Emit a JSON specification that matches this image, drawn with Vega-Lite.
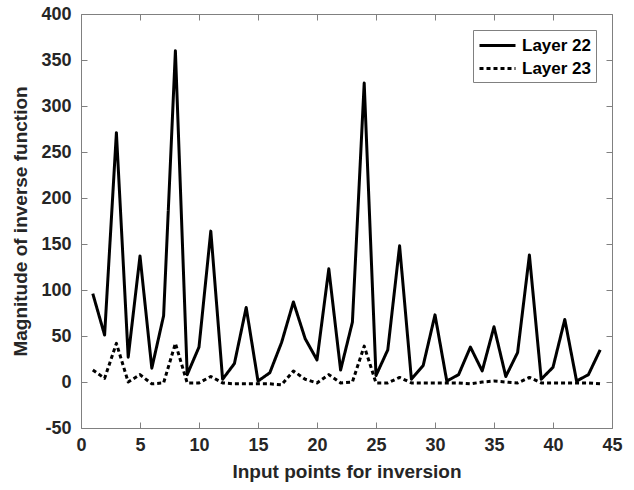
{
  "$schema": "https://vega.github.io/schema/vega-lite/v6.json",
  "autosize": "none",
  "width": 531,
  "height": 414,
  "padding": {"left": 81, "top": 14, "right": 22, "bottom": 62},
  "background": "white",
  "config": {
    "font": "Liberation Sans",
    "view": {"stroke": "#808080", "strokeWidth": 1},
    "axis": {
      "grid": false,
      "domain": false,
      "ticks": true,
      "tickSize": 6,
      "offset": -6,
      "tickColor": "#808080",
      "labelFont": "Liberation Sans",
      "labelFontWeight": "bold",
      "labelFontSize": 18,
      "labelColor": "#262626",
      "titleFont": "Liberation Sans",
      "titleFontWeight": "bold",
      "titleFontSize": 19,
      "titleColor": "#262626"
    }
  },
  "data": {
    "values": [
      {"x": 1, "y": 96, "series": "Layer 22"},
      {"x": 2, "y": 51, "series": "Layer 22"},
      {"x": 3, "y": 271, "series": "Layer 22"},
      {"x": 4, "y": 27, "series": "Layer 22"},
      {"x": 5, "y": 137, "series": "Layer 22"},
      {"x": 6, "y": 15, "series": "Layer 22"},
      {"x": 7, "y": 72, "series": "Layer 22"},
      {"x": 8, "y": 360, "series": "Layer 22"},
      {"x": 9, "y": 8, "series": "Layer 22"},
      {"x": 10, "y": 38, "series": "Layer 22"},
      {"x": 11, "y": 164, "series": "Layer 22"},
      {"x": 12, "y": 3, "series": "Layer 22"},
      {"x": 13, "y": 20, "series": "Layer 22"},
      {"x": 14, "y": 81, "series": "Layer 22"},
      {"x": 15, "y": 1, "series": "Layer 22"},
      {"x": 16, "y": 10, "series": "Layer 22"},
      {"x": 17, "y": 43, "series": "Layer 22"},
      {"x": 18, "y": 87, "series": "Layer 22"},
      {"x": 19, "y": 47, "series": "Layer 22"},
      {"x": 20, "y": 24, "series": "Layer 22"},
      {"x": 21, "y": 123, "series": "Layer 22"},
      {"x": 22, "y": 13, "series": "Layer 22"},
      {"x": 23, "y": 65, "series": "Layer 22"},
      {"x": 24, "y": 325, "series": "Layer 22"},
      {"x": 25, "y": 7, "series": "Layer 22"},
      {"x": 26, "y": 35, "series": "Layer 22"},
      {"x": 27, "y": 148, "series": "Layer 22"},
      {"x": 28, "y": 3, "series": "Layer 22"},
      {"x": 29, "y": 18, "series": "Layer 22"},
      {"x": 30, "y": 73, "series": "Layer 22"},
      {"x": 31, "y": 1, "series": "Layer 22"},
      {"x": 32, "y": 8, "series": "Layer 22"},
      {"x": 33, "y": 38, "series": "Layer 22"},
      {"x": 34, "y": 12, "series": "Layer 22"},
      {"x": 35, "y": 60, "series": "Layer 22"},
      {"x": 36, "y": 6, "series": "Layer 22"},
      {"x": 37, "y": 32, "series": "Layer 22"},
      {"x": 38, "y": 138, "series": "Layer 22"},
      {"x": 39, "y": 3, "series": "Layer 22"},
      {"x": 40, "y": 16, "series": "Layer 22"},
      {"x": 41, "y": 68, "series": "Layer 22"},
      {"x": 42, "y": 1, "series": "Layer 22"},
      {"x": 43, "y": 8, "series": "Layer 22"},
      {"x": 44, "y": 35, "series": "Layer 22"},
      {"x": 1, "y": 13, "series": "Layer 23"},
      {"x": 2, "y": 4, "series": "Layer 23"},
      {"x": 3, "y": 42, "series": "Layer 23"},
      {"x": 4, "y": 0, "series": "Layer 23"},
      {"x": 5, "y": 8, "series": "Layer 23"},
      {"x": 6, "y": -2, "series": "Layer 23"},
      {"x": 7, "y": -1, "series": "Layer 23"},
      {"x": 8, "y": 42, "series": "Layer 23"},
      {"x": 9, "y": -1, "series": "Layer 23"},
      {"x": 10, "y": -1, "series": "Layer 23"},
      {"x": 11, "y": 6, "series": "Layer 23"},
      {"x": 12, "y": -1, "series": "Layer 23"},
      {"x": 13, "y": -2, "series": "Layer 23"},
      {"x": 14, "y": -2, "series": "Layer 23"},
      {"x": 15, "y": -2, "series": "Layer 23"},
      {"x": 16, "y": -2, "series": "Layer 23"},
      {"x": 17, "y": -3, "series": "Layer 23"},
      {"x": 18, "y": 12, "series": "Layer 23"},
      {"x": 19, "y": 3, "series": "Layer 23"},
      {"x": 20, "y": -1, "series": "Layer 23"},
      {"x": 21, "y": 8, "series": "Layer 23"},
      {"x": 22, "y": -1, "series": "Layer 23"},
      {"x": 23, "y": 0, "series": "Layer 23"},
      {"x": 24, "y": 39, "series": "Layer 23"},
      {"x": 25, "y": -1, "series": "Layer 23"},
      {"x": 26, "y": -1, "series": "Layer 23"},
      {"x": 27, "y": 5, "series": "Layer 23"},
      {"x": 28, "y": -1, "series": "Layer 23"},
      {"x": 29, "y": -1, "series": "Layer 23"},
      {"x": 30, "y": -1, "series": "Layer 23"},
      {"x": 31, "y": -1, "series": "Layer 23"},
      {"x": 32, "y": -1, "series": "Layer 23"},
      {"x": 33, "y": -2, "series": "Layer 23"},
      {"x": 34, "y": 0, "series": "Layer 23"},
      {"x": 35, "y": 1, "series": "Layer 23"},
      {"x": 36, "y": 0, "series": "Layer 23"},
      {"x": 37, "y": -1, "series": "Layer 23"},
      {"x": 38, "y": 5, "series": "Layer 23"},
      {"x": 39, "y": -1, "series": "Layer 23"},
      {"x": 40, "y": -1, "series": "Layer 23"},
      {"x": 41, "y": -1, "series": "Layer 23"},
      {"x": 42, "y": -1, "series": "Layer 23"},
      {"x": 43, "y": -1, "series": "Layer 23"},
      {"x": 44, "y": -2, "series": "Layer 23"}
    ]
  },
  "layer": [
    {
      "mark": {"type": "line", "color": "black", "strokeWidth": 3, "strokeJoin": "round"},
      "encoding": {
        "x": {
          "field": "x", "type": "quantitative",
          "scale": {"domain": [0, 45], "nice": false, "zero": false},
          "axis": {"orient": "bottom", "values": [0, 5, 10, 15, 20, 25, 30, 35, 40, 45], "labelPadding": 8, "title": "Input points for inversion", "titlePadding": 8, "labelFlush": false}
        },
        "y": {
          "field": "y", "type": "quantitative",
          "scale": {"domain": [-50, 400], "nice": false, "zero": false},
          "axis": {"orient": "left", "values": [-50, 0, 50, 100, 150, 200, 250, 300, 350, 400], "labelPadding": 10, "labelExpr": "'' + datum.value", "title": "Magnitude of inverse function", "titlePadding": 10}
        },
        "strokeDash": {
          "field": "series", "type": "nominal",
          "scale": {"domain": ["Layer 22", "Layer 23"], "range": [[1, 0], [4, 3]]},
          "legend": {
            "title": null,
            "orient": "none",
            "legendX": 392,
            "legendY": 16,
            "symbolType": "M-1,0H3",
            "symbolSize": 324,
            "symbolStrokeWidth": 3,
            "symbolStrokeColor": "black",
            "labelFont": "Liberation Sans",
            "labelFontWeight": "bold",
            "labelFontSize": 17,
            "labelColor": "black",
            "strokeColor": "#808080",
            "fillColor": "white",
            "padding": 5,
            "rowPadding": 4,
            "labelOffset": 23
          }
        }
      }
    },
    {
      "mark": {"type": "line", "opacity": 0},
      "encoding": {
        "x": {
          "field": "x", "type": "quantitative",
          "axis": {"orient": "top", "values": [0, 5, 10, 15, 20, 25, 30, 35, 40, 45], "labels": false, "title": null}
        },
        "y": {
          "field": "y", "type": "quantitative",
          "axis": {"orient": "right", "values": [-50, 0, 50, 100, 150, 200, 250, 300, 350, 400], "labels": false, "title": null}
        }
      }
    }
  ],
  "resolve": {"axis": {"x": "independent", "y": "independent"}}
}
